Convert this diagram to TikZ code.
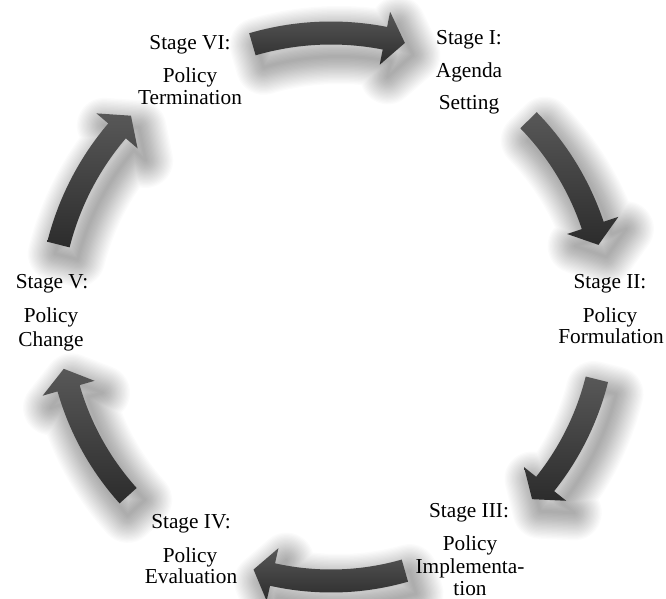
\documentclass[tikz,border=0pt]{standalone}
\usepackage{fontspec}
\setmainfont{Liberation Serif}

\definecolor{arrowtop}{RGB}{88,88,88}
\definecolor{arrowbot}{RGB}{44,44,44}

\tikzset{
  stagetext/.style={anchor=base, inner sep=0pt, font=\fontsize{21.3}{26}\selectfont, text=black},
  arrowbody/.style={top color=arrowtop, bottom color=arrowbot},
  arrowshade/.style={draw=black, draw opacity=0.014, line join=round},
}

% Curved block arrow running clockwise along a circle round the origin:
% #1 tail angle, #2 tip angle, #3 radius of the centre line.
% A stack of widening translucent outlines, shifted down and right,
% gives the soft shadow underneath.
\newcommand\cyclearrow[3]{%
  \pgfmathsetmacro\rout{#3+11.5}%
  \pgfmathsetmacro\rin{#3-11.5}%
  \pgfmathsetmacro\hout{#3+27}%
  \pgfmathsetmacro\hin{#3-27}%
  \pgfmathsetmacro\hbase{#2+4.2}%
  \def\arrowoutline{(#1:\rout pt) arc[start angle=#1, end angle=\hbase, radius=\rout pt]
    -- (\hbase:\hout pt) -- (#2:#3pt) -- (\hbase:\hin pt) -- (\hbase:\rin pt)
    arc[start angle=\hbase, end angle=#1, radius=\rin pt] -- cycle}%
  \begin{scope}[shift={(8pt,-12pt)}]
    \foreach \k in {1,...,22}{\path[arrowshade, line width=\k*2.5pt] \arrowoutline;}
  \end{scope}
  \path[arrowbody] \arrowoutline;}

\begin{document}
\begin{tikzpicture}[x=1pt, y=1pt]
  \fill[white] (0,0) rectangle (666,-599);
  \useasboundingbox (0,0) rectangle (666,-599);

  % the six arrows of the cycle
  \begin{scope}[shift={(331,-313)}]
    \cyclearrow{106.3}{74.7}{280}
    \cyclearrow{44.3}{14.3}{276}
    \cyclearrow{-14}{-42.8}{274}
    \cyclearrow{-74}{-106.8}{268}
    \cyclearrow{222}{191.8}{273}
    \cyclearrow{165.9}{135.4}{281}
  \end{scope}

  % Stage I
  \node[stagetext] (s1a) at (469,-45)  {Stage I:};
  \node[stagetext] (s1b) at (469,-78)  {Agenda};
  \node[stagetext] (s1c) at (469,-110) {Setting};
  % Stage II
  \node[stagetext] (s2a) at (610,-288) {Stage II:};
  \node[stagetext] (s2b) at (610,-322) {Policy};
  \node[stagetext] (s2c) at (611,-343) {Formulation};
  % Stage III
  \node[stagetext] (s3a) at (469,-517) {Stage III:};
  \node[stagetext] (s3b) at (470,-550) {Policy};
  \node[stagetext] (s3c) at (470,-573) {Implementa-};
  \node[stagetext] (s3d) at (470,-595) {tion};
  % Stage IV
  \node[stagetext] (s4a) at (191,-528) {Stage IV:};
  \node[stagetext] (s4b) at (190,-562) {Policy};
  \node[stagetext] (s4c) at (191,-583) {Evaluation};
  % Stage V
  \node[stagetext] (s5a) at (52,-288) {Stage V:};
  \node[stagetext] (s5b) at (51,-322) {Policy};
  \node[stagetext] (s5c) at (51,-346) {Change};
  % Stage VI
  \node[stagetext] (s6a) at (190,-50)  {Stage VI:};
  \node[stagetext] (s6b) at (190,-83)  {Policy};
  \node[stagetext] (s6c) at (190,-105) {Termination};
\end{tikzpicture}
\end{document}
